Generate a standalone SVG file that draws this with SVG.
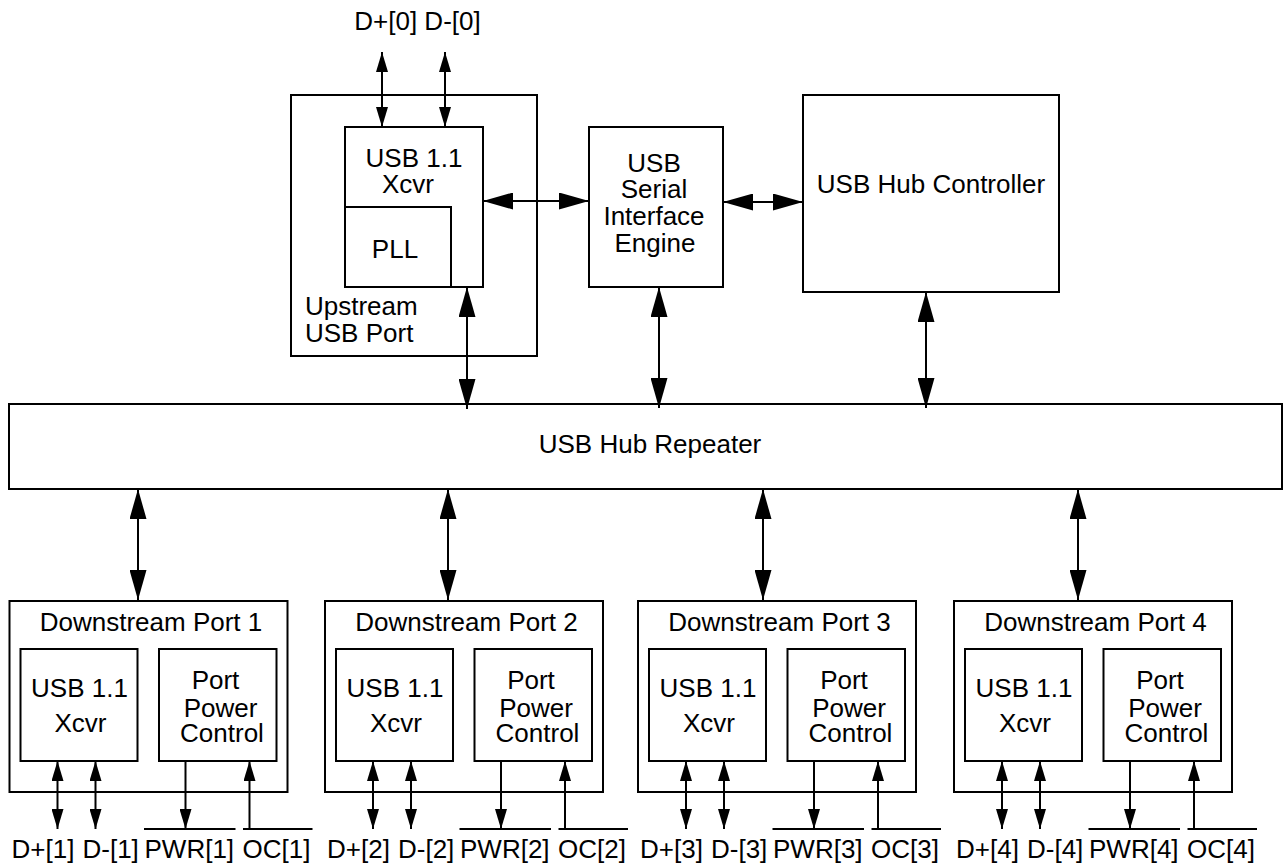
<svg xmlns="http://www.w3.org/2000/svg" width="1283" height="864" viewBox="0 0 1283 864">
<style>
  .box { fill: none; stroke: #000; stroke-width: 2; }
  .t { font-family: "Liberation Sans", Arial, Helvetica, sans-serif; font-size: 26px; fill: #000; }
  .m { text-anchor: middle; }
  .c { stroke: #000; stroke-width: 2; fill: none; }
  .ol { stroke: #000; stroke-width: 2; }
</style>
<defs>
  <marker id="big" markerUnits="userSpaceOnUse" markerWidth="30" markerHeight="17" refX="30" refY="8.5" orient="auto-start-reverse">
    <path d="M0,0 L30,8.5 L0,17 Z" fill="#000"/>
  </marker>
  <marker id="small" markerUnits="userSpaceOnUse" markerWidth="20" markerHeight="12" refX="20" refY="6" orient="auto-start-reverse">
    <path d="M0,0 L20,6 L0,12 Z" fill="#000"/>
  </marker>
</defs>
<rect width="1283" height="864" fill="#fff"/>

<g id="d0-label">
  <text class="t m" x="417.5" y="30">D+[0] D-[0]</text>
</g>

<g id="upstream-port">
  <rect class="box" x="291" y="95" width="246" height="261"/>
  <text class="t" x="305" y="315">Upstream</text>
  <text class="t" x="305" y="342">USB Port</text>
</g>
<g id="upstream-xcvr">
  <rect class="box" x="345" y="127" width="138" height="160"/>
  <text class="t m" x="414" y="167">USB 1.1</text>
  <text class="t m" x="408" y="193">Xcvr</text>
</g>
<g id="pll">
  <rect class="box" x="345" y="207" width="106" height="80"/>
  <text class="t m" x="395" y="258">PLL</text>
</g>

<g id="sie">
  <rect class="box" x="589" y="127" width="134" height="160"/>
  <text class="t m" x="654" y="172">USB</text>
  <text class="t m" x="654" y="198">Serial</text>
  <text class="t m" x="654" y="225">Interface</text>
  <text class="t m" x="655" y="252">Engine</text>
</g>

<g id="hub-controller">
  <rect class="box" x="803" y="95" width="256" height="197"/>
  <text class="t m" x="931" y="193">USB Hub Controller</text>
</g>

<g id="hub-repeater">
  <rect class="box" x="9" y="404" width="1273" height="85"/>
  <text class="t m" x="650" y="453">USB Hub Repeater</text>
</g>

<g id="port1" transform="translate(9.5,0)">
  <rect class="box" x="0" y="601" width="278" height="191"/>
  <text class="t m" x="141.5" y="631">Downstream Port 1</text>
  <rect class="box" x="11" y="649" width="117" height="112"/>
  <text class="t m" x="70" y="697">USB 1.1</text>
  <text class="t m" x="71" y="732">Xcvr</text>
  <rect class="box" x="149.5" y="649" width="117.5" height="112"/>
  <text class="t m" x="206" y="689">Port</text>
  <text class="t m" x="211" y="716.5">Power</text>
  <text class="t m" x="212.5" y="742">Control</text>
  <text class="t" x="2" y="858">D+[1]</text>
  <text class="t" x="73" y="858">D-[1]</text>
  <text class="t" x="135" y="858">PWR[1]</text>
  <text class="t" x="233" y="858">OC[1]</text>
  <line class="ol" x1="134.5" y1="829" x2="226" y2="829"/>
  <line class="ol" x1="233.5" y1="829" x2="303" y2="829"/>
</g>

<g id="port2" transform="translate(325,0)">
  <rect class="box" x="0" y="601" width="278" height="191"/>
  <text class="t m" x="141.5" y="631">Downstream Port 2</text>
  <rect class="box" x="11" y="649" width="117" height="112"/>
  <text class="t m" x="70" y="697">USB 1.1</text>
  <text class="t m" x="71" y="732">Xcvr</text>
  <rect class="box" x="149.5" y="649" width="117.5" height="112"/>
  <text class="t m" x="206" y="689">Port</text>
  <text class="t m" x="211" y="716.5">Power</text>
  <text class="t m" x="212.5" y="742">Control</text>
  <text class="t" x="2" y="858">D+[2]</text>
  <text class="t" x="73" y="858">D-[2]</text>
  <text class="t" x="135" y="858">PWR[2]</text>
  <text class="t" x="233" y="858">OC[2]</text>
  <line class="ol" x1="134.5" y1="829" x2="226" y2="829"/>
  <line class="ol" x1="233.5" y1="829" x2="303" y2="829"/>
</g>

<g id="port3" transform="translate(638,0)">
  <rect class="box" x="0" y="601" width="278" height="191"/>
  <text class="t m" x="141.5" y="631">Downstream Port 3</text>
  <rect class="box" x="11" y="649" width="117" height="112"/>
  <text class="t m" x="70" y="697">USB 1.1</text>
  <text class="t m" x="71" y="732">Xcvr</text>
  <rect class="box" x="149.5" y="649" width="117.5" height="112"/>
  <text class="t m" x="206" y="689">Port</text>
  <text class="t m" x="211" y="716.5">Power</text>
  <text class="t m" x="212.5" y="742">Control</text>
  <text class="t" x="2" y="858">D+[3]</text>
  <text class="t" x="73" y="858">D-[3]</text>
  <text class="t" x="135" y="858">PWR[3]</text>
  <text class="t" x="233" y="858">OC[3]</text>
  <line class="ol" x1="134.5" y1="829" x2="226" y2="829"/>
  <line class="ol" x1="233.5" y1="829" x2="303" y2="829"/>
</g>

<g id="port4" transform="translate(954,0)">
  <rect class="box" x="0" y="601" width="278" height="191"/>
  <text class="t m" x="141.5" y="631">Downstream Port 4</text>
  <rect class="box" x="11" y="649" width="117" height="112"/>
  <text class="t m" x="70" y="697">USB 1.1</text>
  <text class="t m" x="71" y="732">Xcvr</text>
  <rect class="box" x="149.5" y="649" width="117.5" height="112"/>
  <text class="t m" x="206" y="689">Port</text>
  <text class="t m" x="211" y="716.5">Power</text>
  <text class="t m" x="212.5" y="742">Control</text>
  <text class="t" x="2" y="858">D+[4]</text>
  <text class="t" x="73" y="858">D-[4]</text>
  <text class="t" x="135" y="858">PWR[4]</text>
  <text class="t" x="233" y="858">OC[4]</text>
  <line class="ol" x1="134.5" y1="829" x2="226" y2="829"/>
  <line class="ol" x1="233.5" y1="829" x2="303" y2="829"/>
</g>

<g id="connectors">
  <!-- upstream data lines -->
  <line class="c" x1="382" y1="52" x2="382" y2="127" marker-start="url(#small)" marker-end="url(#small)"/>
  <line class="c" x1="445" y1="52" x2="445" y2="127" marker-start="url(#small)" marker-end="url(#small)"/>
  <!-- horizontal -->
  <line class="c" x1="483" y1="201" x2="589" y2="201" marker-start="url(#big)" marker-end="url(#big)"/>
  <line class="c" x1="723" y1="202" x2="803" y2="202" marker-start="url(#big)" marker-end="url(#big)"/>
  <!-- to repeater -->
  <line class="c" x1="467" y1="287" x2="467" y2="409" marker-start="url(#big)" marker-end="url(#big)"/>
  <line class="c" x1="659" y1="287" x2="659" y2="408" marker-start="url(#big)" marker-end="url(#big)"/>
  <line class="c" x1="926" y1="292" x2="926" y2="408" marker-start="url(#big)" marker-end="url(#big)"/>
  <!-- repeater to ports -->
  <line class="c" x1="138" y1="489" x2="138" y2="600" marker-start="url(#big)" marker-end="url(#big)"/>
  <line class="c" x1="448" y1="489" x2="448" y2="600" marker-start="url(#big)" marker-end="url(#big)"/>
  <line class="c" x1="763" y1="489" x2="763" y2="600" marker-start="url(#big)" marker-end="url(#big)"/>
  <line class="c" x1="1078" y1="489" x2="1078" y2="600" marker-start="url(#big)" marker-end="url(#big)"/>
  <!-- port 1 -->
  <line class="c" x1="57.5" y1="761" x2="57.5" y2="829" marker-start="url(#small)" marker-end="url(#small)"/>
  <line class="c" x1="95.5" y1="761" x2="95.5" y2="829" marker-start="url(#small)" marker-end="url(#small)"/>
  <line class="c" x1="185.5" y1="761" x2="185.5" y2="829" marker-end="url(#small)"/>
  <line class="c" x1="249.5" y1="829" x2="249.5" y2="761" marker-end="url(#small)"/>
  <!-- port 2 -->
  <line class="c" x1="373" y1="761" x2="373" y2="829" marker-start="url(#small)" marker-end="url(#small)"/>
  <line class="c" x1="411" y1="761" x2="411" y2="829" marker-start="url(#small)" marker-end="url(#small)"/>
  <line class="c" x1="501" y1="761" x2="501" y2="829" marker-end="url(#small)"/>
  <line class="c" x1="565" y1="829" x2="565" y2="761" marker-end="url(#small)"/>
  <!-- port 3 -->
  <line class="c" x1="686" y1="761" x2="686" y2="829" marker-start="url(#small)" marker-end="url(#small)"/>
  <line class="c" x1="724" y1="761" x2="724" y2="829" marker-start="url(#small)" marker-end="url(#small)"/>
  <line class="c" x1="814" y1="761" x2="814" y2="829" marker-end="url(#small)"/>
  <line class="c" x1="878" y1="829" x2="878" y2="761" marker-end="url(#small)"/>
  <!-- port 4 -->
  <line class="c" x1="1002" y1="761" x2="1002" y2="829" marker-start="url(#small)" marker-end="url(#small)"/>
  <line class="c" x1="1040" y1="761" x2="1040" y2="829" marker-start="url(#small)" marker-end="url(#small)"/>
  <line class="c" x1="1130" y1="761" x2="1130" y2="829" marker-end="url(#small)"/>
  <line class="c" x1="1194" y1="829" x2="1194" y2="761" marker-end="url(#small)"/>
</g>
</svg>
